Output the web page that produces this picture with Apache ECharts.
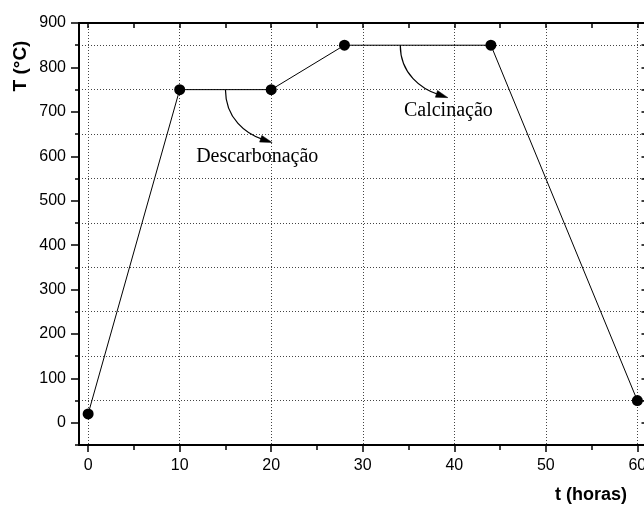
<!DOCTYPE html>
<html><head><meta charset="utf-8">
<script src="https://cdn.jsdelivr.net/npm/echarts@6/dist/echarts.min.js"></script>
<style>html,body{margin:0;padding:0;background:#fff}#c{width:644px;height:506px}</style>
</head><body><div id="c"></div>
<script>
// ---- data ----
const times = [0, 10, 20, 28, 44, 60];
const temps = [20, 750, 750, 850, 850, 50];
const xMajor = [0, 10, 20, 30, 40, 50, 60];
const xMinor = [5, 15, 25, 35, 45, 55];
const xAll = [0, 5, 10, 15, 20, 25, 30, 35, 40, 45, 50, 55, 60];
const yMajor = [0, 100, 200, 300, 400, 500, 600, 700, 800, 900];
const yMinor = [-50, 50, 150, 250, 350, 450, 550, 650, 750, 850];
const yAll = [-50, 0, 50, 100, 150, 200, 250, 300, 350, 400, 450, 500, 550, 600, 650, 700, 750, 800, 850, 900];
const noteTexts = ['Descarbonação', 'Calcinação'];
const noteAt = [[11.8, 599], [34.5, 702]];
const arrowFrom = [[15, 750], [34.1, 850]];
const arrowTo = [[20.1, 631], [39.3, 732]];

const X_MIN = -1, X_MAX = 61, Y_MIN = -50, Y_MAX = 900;
const black = '#000';
const sans = 'Liberation Sans, Arial, sans-serif';
const serif = 'Liberation Serif, Times New Roman, serif';

const chart = echarts.init(document.getElementById('c'), null, {renderer: 'canvas'});

function baseAxis(extra) {
  return Object.assign({
    type: 'value', min: extra.min, max: extra.max,
    axisLine: {show: false, onZero: false, lineStyle: {color: black, width: 2}},
    axisTick: {show: false},
    axisLabel: {show: false},
    splitLine: {show: false}
  }, extra);
}

const option = {
  animation: false,
  backgroundColor: '#fff',
  grid: {left: 79, top: 23, width: 567.5, height: 422, containLabel: false, outerBoundsMode: 'none'},
  xAxis: [
    baseAxis({
      min: X_MIN, max: X_MAX, position: 'bottom', splitNumber: 6,
      axisLine: {show: true, onZero: false, lineStyle: {color: black, width: 2}},
      axisTick: {show: true, inside: false, length: 7, customValues: xMajor, lineStyle: {color: black, width: 1.5}},
      axisLabel: {show: true, customValues: xMajor, margin: 13, color: black, fontSize: 16, fontFamily: sans},
      splitLine: {show: true, lineStyle: {color: '#444', width: 1, type: [1, 2]}}
    }),
    baseAxis({
      min: X_MIN, max: X_MAX, position: 'bottom',
      axisLine: {show: false, onZero: false},
      axisTick: {show: true, inside: false, length: 5, customValues: xMinor, lineStyle: {color: black, width: 1.5}}
    }),
    baseAxis({
      min: X_MIN, max: X_MAX, position: 'top',
      axisLine: {show: true, onZero: false, lineStyle: {color: black, width: 2}},
      axisTick: {show: true, inside: true, length: 5, customValues: xAll, lineStyle: {color: black, width: 1.5}}
    })
  ],
  yAxis: [
    baseAxis({
      min: Y_MIN, max: Y_MAX, position: 'left',
      axisLine: {show: true, onZero: false, lineStyle: {color: black, width: 2}},
      axisTick: {show: true, inside: false, length: 8, customValues: yMajor, lineStyle: {color: black, width: 1.5}},
      axisLabel: {show: true, customValues: yMajor, margin: 13, color: black, fontSize: 16, fontFamily: sans}
    }),
    baseAxis({
      min: Y_MIN, max: Y_MAX, position: 'left',
      axisLine: {show: false, onZero: false},
      axisTick: {show: true, inside: false, length: 4, customValues: yMinor, lineStyle: {color: black, width: 1.5}}
    }),
    baseAxis({
      min: Y_MIN, max: Y_MAX, position: 'right',
      axisLine: {show: true, onZero: false, lineStyle: {color: black, width: 2}},
      axisTick: {show: true, inside: true, length: 5, customValues: yAll, lineStyle: {color: black, width: 1.5}}
    }),
    // grid-line axis: with interval counted from min, split lines fall at 50, 150, ... 850
    baseAxis({
      min: Y_MIN, max: Y_MAX, position: 'left', interval: 100,
      axisLine: {show: false, onZero: false},
      splitLine: {show: true, lineStyle: {color: '#444', width: 1, type: [1, 2]}}
    })
  ],
  series: [{
    type: 'line',
    xAxisIndex: 0, yAxisIndex: 0,
    data: times.map((t, i) => [t, temps[i]]),
    symbol: 'circle', symbolSize: 11,
    itemStyle: {color: black},
    lineStyle: {color: black, width: 1},
    emphasis: {disabled: true},
    silent: true,
    z: 3
  }]
};
chart.setOption(option);

const toPx = p => chart.convertToPixel({xAxisIndex: 0, yAxisIndex: 0}, p);
const graphics = [];
noteTexts.forEach((t, i) => {
  const p = toPx(noteAt[i]);
  graphics.push({type: 'text', x: p[0], y: p[1], silent: true, z: 10,
    style: {text: t, fill: black, font: '20px ' + serif, textAlign: 'left', textVerticalAlign: 'middle'}});
});
arrowFrom.forEach((a, i) => {
  const s = toPx(a), e = toPx(arrowTo[i]);
  const w = e[0] - s[0], h = e[1] - s[1];
  const cp1 = [s[0], s[1] + 0.55 * h];
  const cp2 = [e[0] - 0.55 * w, e[1] - 0.18 * w];
  const dx = e[0] - cp2[0], dy = e[1] - cp2[1];
  const len = Math.hypot(dx, dy), ux = dx / len, uy = dy / len;
  const L = 12, W = 3.5;
  const bx = e[0] - ux * L, by = e[1] - uy * L;
  graphics.push({type: 'bezierCurve', silent: true, z: 10,
    shape: {x1: s[0], y1: s[1], x2: bx + ux * 2, y2: by + uy * 2, cpx1: cp1[0], cpy1: cp1[1], cpx2: cp2[0], cpy2: cp2[1]},
    style: {stroke: black, lineWidth: 1.2, fill: null}});
  graphics.push({type: 'polygon', silent: true, z: 10,
    shape: {points: [[e[0], e[1]], [bx - uy * W, by + ux * W], [bx + uy * W, by - ux * W]]},
    style: {fill: black, stroke: black, lineWidth: 0.5}});
});
graphics.push({type: 'text', x: 21, y: 66, rotation: Math.PI / 2, silent: true,
  style: {text: 'T (°C)', fill: black, font: 'bold 19px ' + sans, textAlign: 'center', textVerticalAlign: 'middle'}});
graphics.push({type: 'text', x: 591, y: 495, silent: true,
  style: {text: 't (horas)', fill: black, font: 'bold 18px ' + sans, textAlign: 'center', textVerticalAlign: 'middle'}});
chart.setOption({graphic: graphics});
</script>
</body></html>
